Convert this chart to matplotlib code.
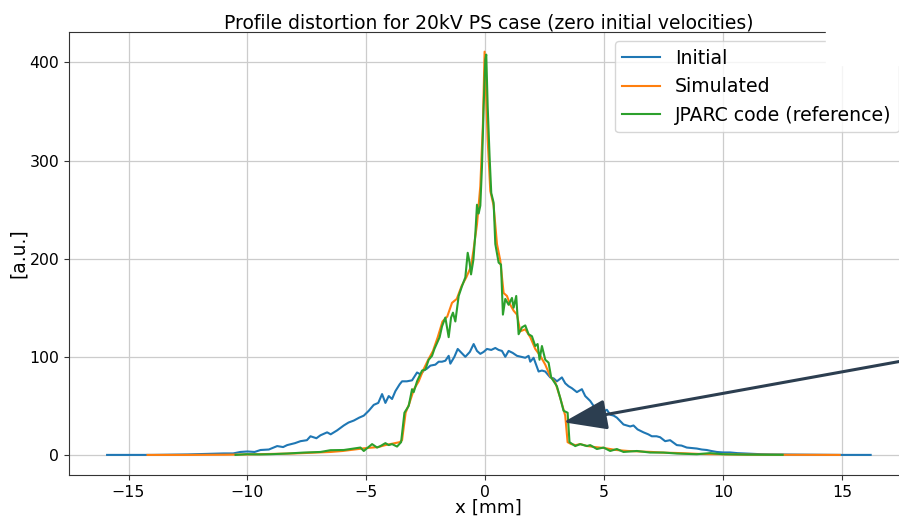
import numpy as np
import matplotlib
matplotlib.use("Agg")
import matplotlib.pyplot as plt
from matplotlib.patches import Rectangle

# Beam profiles, x in mm, amplitude in arbitrary units
x_init = [-15.9, -14.0, -12.5, -12.0, -11.5, -11.0, -10.6, -10.3, -10.0, -9.7,
          -9.45, -9.1, -8.75, -8.5, -8.33, -8.0, -7.77, -7.5, -7.35, -7.1,
          -6.93, -6.65, -6.5, -6.23, -5.95, -5.75, -5.53, -5.3, -5.11, -4.9,
          -4.69, -4.5, -4.34, -4.2, -4.06, -3.92, -3.78, -3.6, -3.5, -3.3,
          -3.08, -2.87, -2.72, -2.59, -2.45, -2.31, -2.1, -1.96, -1.82, -1.68,
          -1.54, -1.47, -1.3, -1.16, -1.0, -0.84, -0.65, -0.49, -0.35, -0.21,
          -0.07, 0.07, 0.25, 0.42, 0.56, 0.7, 0.84, 0.98, 1.15, 1.33,
          1.5, 1.68, 1.82, 1.89, 2.03, 2.24, 2.38, 2.52, 2.73, 2.87,
          3.01, 3.22, 3.36, 3.5, 3.64, 3.85, 4.06, 4.2, 4.41, 4.55,
          4.69, 4.9, 5.11, 5.25, 5.4, 5.53, 5.81, 6.09, 6.23, 6.4,
          6.65, 6.85, 7.0, 7.2, 7.35, 7.56, 7.77, 8.05, 8.25, 8.47,
          8.7, 8.89, 9.1, 9.31, 9.5, 9.73, 10.0, 10.29, 10.6, 10.85,
          11.2, 11.6, 12.0, 12.5, 13.2, 14.0, 15.0, 16.2]
y_init = [0, 0, 0.5, 0.8, 1, 1.5, 1.5, 3, 3.5, 3,
          5, 5.5, 9, 8, 10, 12, 14, 15, 19, 17,
          20, 23, 21, 25, 30, 33, 35, 38, 40, 45,
          51, 53, 62, 53, 60, 57, 65, 72, 75, 75,
          76, 84, 82, 86, 88, 91, 92, 95, 95, 96,
          101, 93, 100, 108, 104, 100, 105, 113, 106, 103,
          105, 108, 107, 109, 107, 106, 100, 106, 104, 101,
          100, 99, 101, 95, 99, 85, 86, 85, 79, 78,
          75, 79, 73, 70, 68, 64, 67, 60, 55, 50,
          46, 43, 46, 41, 40, 38, 31, 29, 30, 26,
          23, 21, 19, 19, 18, 14, 15, 10, 9.5, 7.5,
          7, 6.5, 5.5, 5, 4, 3, 2.5, 2.5, 1.8, 1.5,
          1.0, 0.7, 0.5, 0.4, 0.2, 0.1, 0, 0]

x_sim = [-14.2, -12.5, -11.0, -10.0, -9.0, -8.0, -7.0, -6.5, -6.0, -5.5,
         -5.0, -4.5, -4.2, -4.0, -3.8, -3.6, -3.5, -3.35, -3.2, -3.0,
         -2.8, -2.6, -2.4, -2.2, -2.0, -1.8, -1.6, -1.4, -1.2, -1.0,
         -0.8, -0.6, -0.49, -0.35, -0.21, -0.1, -0.03, 0.1, 0.21, 0.35,
         0.49, 0.63, 0.77, 0.91, 1.05, 1.19, 1.33, 1.47, 1.68, 1.89,
         2.1, 2.31, 2.52, 2.73, 2.94, 3.15, 3.36, 3.46, 3.61, 3.8,
         3.99, 4.3, 4.6, 5.0, 5.5, 6.0, 6.5, 7.0, 7.5, 8.0,
         9.0, 10.0, 11.0, 12.0, 13.0, 14.9]
y_sim = [0, 0, 0.2, 0.5, 1, 1.5, 2.5, 3, 4, 5.5,
         7, 8, 10, 11, 12, 13, 15, 43, 52, 67,
         75, 87, 97, 106, 120, 136, 141, 155, 159, 172,
         181, 192, 210, 235, 274, 338, 411, 321, 269, 254,
         215, 198, 165, 162, 153, 147, 143, 126, 128, 120,
         108, 101, 92, 80, 74, 58, 40, 13, 11, 10,
         11, 9, 8, 7, 5, 4, 3.5, 3, 2.3, 2,
         1, 0.6, 0.3, 0.2, 0.1, 0]

x_ref = [-10.5, -10.05, -9.5, -9.03, -8.33, -7.63, -6.93, -6.51, -5.95, -5.53,
         -5.25, -5.11, -4.76, -4.55, -4.41, -4.2, -4.06, -3.92, -3.71, -3.54,
         -3.4, -3.22, -3.08, -3.01, -2.87, -2.66, -2.52, -2.38, -2.24, -2.14,
         -2.03, -1.92, -1.82, -1.68, -1.54, -1.44, -1.36, -1.26, -1.12, -0.98,
         -0.84, -0.74, -0.66, -0.6, -0.5, -0.42, -0.35, -0.28, -0.21, -0.14,
         -0.07, 0.0, 0.04, 0.1, 0.18, 0.25, 0.35, 0.42, 0.56, 0.66,
         0.74, 0.84, 0.98, 1.12, 1.19, 1.30, 1.4, 1.54, 1.68, 1.82,
         1.96, 2.1, 2.2, 2.28, 2.38, 2.52, 2.66, 2.77, 3.01, 3.15,
         3.29, 3.46, 3.54, 3.78, 3.99, 4.27, 4.41, 4.69, 4.97, 5.25,
         5.53, 5.81, 6.37, 6.93, 7.49, 8.05, 8.89, 9.45, 10.0, 11.0,
         12.5]
y_ref = [0, 0.7, 0.5, 0.7, 1.4, 2.4, 3, 4.8, 5, 6.5,
         7.5, 4, 11, 7.5, 9, 12, 10, 11, 8.5, 13,
         43, 50, 67, 64, 75, 86, 87, 97, 101, 108,
         114, 120, 131, 140, 120, 140, 145, 136, 162, 172,
         181, 206, 196, 184, 199, 225, 255, 246, 254, 294,
         355, 403, 408, 355, 304, 267, 257, 215, 196, 194,
         143, 159, 153, 160, 150, 162, 123, 130, 132, 123,
         121, 111, 113, 97, 111, 97, 94, 79, 70, 58,
         45, 43, 13, 9, 11, 9, 10, 6, 7.5, 4,
         6, 3, 4, 2.4, 2.4, 1.4, 0.7, 1.8, 0.7, 0.3,
         0.1]

fig = plt.figure(figsize=(8.99, 5.17), dpi=100)
# the axes run a little past the right edge of the figure
ax = fig.add_axes([0.0768, 0.0812, 0.9340, 0.8568])

ax.plot(x_init, y_init, color='#1f77b4', lw=1.5, label='Initial')
ax.plot(x_sim, y_sim, color='#ff7f0e', lw=1.5, label='Simulated')
ax.plot(x_ref, y_ref, color='#2ca02c', lw=1.5, label='JPARC code (reference)')

ax.set_xlim(-17.5, 17.8)
ax.set_ylim(-20.5, 431)
ax.set_xticks([-15, -10, -5, 0, 5, 10, 15])
ax.set_yticks([0, 100, 200, 300, 400])
ax.tick_params(labelsize=11.3, color='#333333')
ax.grid(True, color='#cccccc', lw=0.9)
ax.set_axisbelow(True)
for sp in ax.spines.values():
    sp.set_color('#333333')

ax.set_title('Profile distortion for 20kV PS case (zero initial velocities)',
             fontsize=13.5, pad=2)
ax.set_xlabel('x [mm]', fontsize=13.2, labelpad=-1)
ax.set_ylabel('[a.u.]', fontsize=13.5, labelpad=1)
ax.legend(loc='upper right', fontsize=13.6)

# pointer to the steep edge of the distorted profile
ax.annotate('', xy=(3.28, 33.3), xytext=(18.5, 100),
            arrowprops=dict(arrowstyle='-|>,head_length=1.35,head_width=0.47',
                            mutation_scale=20, color='#2c3e50', lw=2.2,
                            shrinkA=0, shrinkB=0),
            annotation_clip=False, zorder=5)

# blank patch over the top right corner
fig.patches.append(Rectangle((826 / 899, 1 - 65 / 517), 1, 1,
                             transform=fig.transFigure, color='white',
                             zorder=10))

fig.savefig('out.png', dpi=100)
